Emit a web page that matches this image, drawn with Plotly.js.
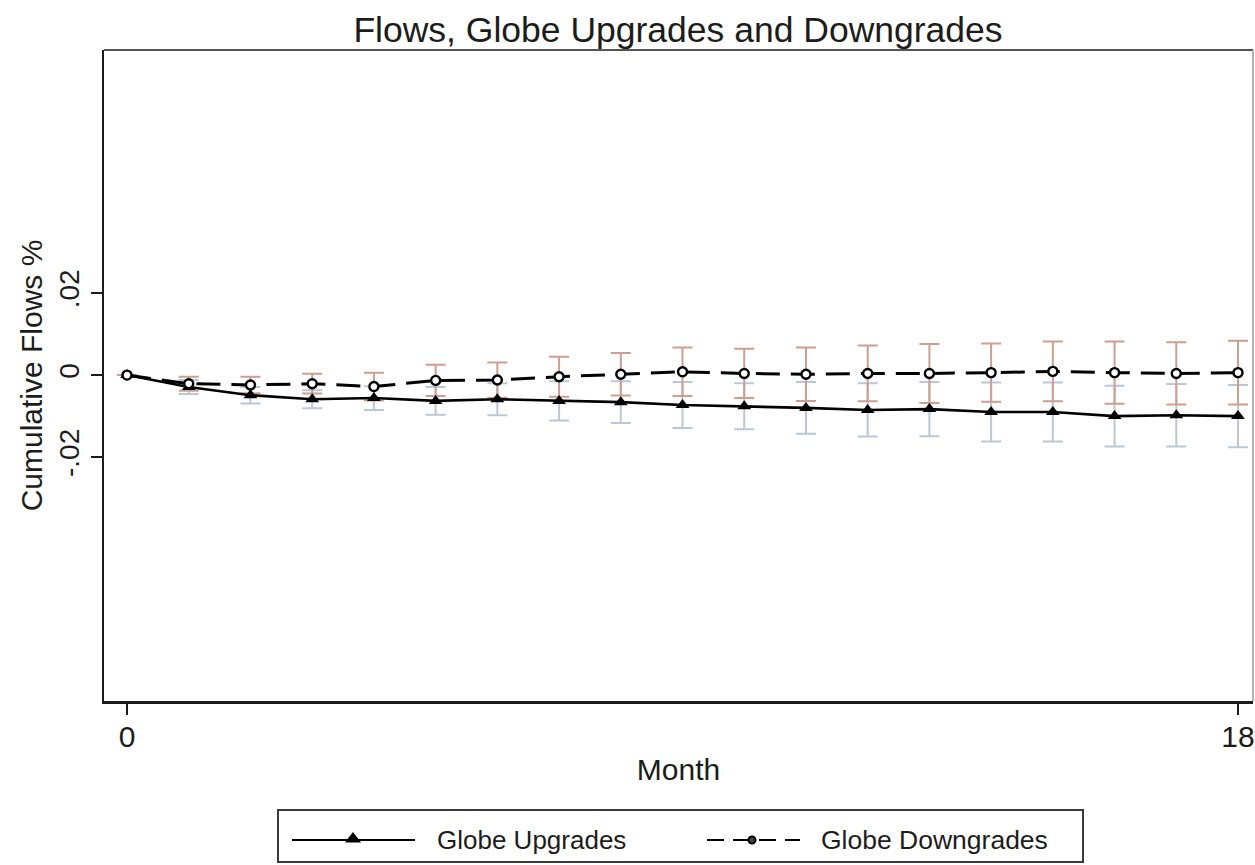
<!DOCTYPE html>
<html>
<head>
<meta charset="utf-8">
<script src="https://cdn.plot.ly/plotly-3.0.1.min.js"></script>
<style>
  html, body { margin: 0; padding: 0; background: #ffffff; }
  #chart { width: 1255px; height: 865px; }
</style>
</head>
<body>
<div id="chart"></div>
<script>
// Months since event
const months = [0, 1, 2, 3, 4, 5, 6, 7, 8, 9, 10, 11, 12, 13, 14, 15, 16, 17, 18];

// Cumulative flows (%) and 95% CI half-widths
const upgrades = [0, -0.0029, -0.0049, -0.0059, -0.0056, -0.0063, -0.0059, -0.0063, -0.0066,
  -0.0073, -0.0076, -0.0080, -0.0085, -0.0083, -0.0090, -0.0090, -0.0100, -0.0098, -0.0100];
const upgradesCI = [0, 0.0017, 0.0020, 0.0022, 0.0029, 0.0034, 0.0039, 0.0048, 0.0051,
  0.0056, 0.0056, 0.0063, 0.0065, 0.0066, 0.0072, 0.0072, 0.0074, 0.0076, 0.0076];

const downgrades = [0, -0.0021, -0.0024, -0.0021, -0.0028, -0.0013, -0.0012, -0.0004, 0.0002,
  0.0008, 0.0004, 0.0002, 0.0004, 0.0004, 0.0006, 0.0009, 0.0006, 0.0004, 0.0006];
const downgradesCI = [0, 0.0017, 0.0020, 0.0024, 0.0034, 0.0038, 0.0043, 0.0049, 0.0052,
  0.0059, 0.0060, 0.0065, 0.0068, 0.0072, 0.0071, 0.0073, 0.0076, 0.0076, 0.0078];

const seriesNames = ['Globe Upgrades', 'Globe Downgrades'];
const xTickVals = [0, 18];
const xTickText = ['0', '18'];
const yTickVals = [-0.02, 0, 0.02];
const yTickText = ['-.02', '0', '.02'];

const chartTitle = 'Flows, Globe Upgrades and Downgrades';
const xTitle = 'Month';
const yTitle = 'Cumulative Flows %';

// ---- layout helpers (pixel -> paper fractions) ----
const W = 1255, H = 865;
const px = v => v / W;
const py = v => 1 - v / H;
const FONT = 'Liberation Sans, Arial, Helvetica, sans-serif';
const INK = '#1c1c1c';
const CI_BLUE = '#bcc7d6';
const CI_PINK = '#cc9f92';

const frame = { left: 104, right: 1253, top: 50, bottom: 701 };
const legendBox = { left: 278, right: 1083, top: 810, bottom: 862 };
const keyY = 840;

const traces = [
  // confidence intervals (drawn first so the lines sit on top)
  {
    x: months, y: upgrades, type: 'scatter', mode: 'markers',
    marker: { size: 1, color: 'rgba(0,0,0,0)' },
    error_y: { type: 'data', array: upgradesCI, visible: true, color: CI_BLUE, thickness: 2, width: 10 },
    showlegend: false, hoverinfo: 'skip'
  },
  {
    x: months, y: downgrades, type: 'scatter', mode: 'markers',
    marker: { size: 1, color: 'rgba(0,0,0,0)' },
    error_y: { type: 'data', array: downgradesCI, visible: true, color: CI_PINK, thickness: 2, width: 10 },
    showlegend: false, hoverinfo: 'skip'
  },
  {
    x: months, y: upgrades, type: 'scatter', mode: 'lines+markers', name: seriesNames[0],
    line: { color: '#000000', width: 2.6 },
    marker: { symbol: 'triangle-up', size: 12, color: '#000000' },
    showlegend: false
  },
  {
    x: months, y: downgrades, type: 'scatter', mode: 'lines+markers', name: seriesNames[1],
    line: { color: '#000000', width: 3, dash: '24px,11px' },
    marker: { symbol: 'circle', size: 9, color: '#ffffff', line: { color: '#000000', width: 2.4 } },
    showlegend: false
  },
  // legend keys, drawn on a pixel-scaled helper axis pair
  {
    x: [292, 415], y: [keyY, keyY], xaxis: 'x2', yaxis: 'y2',
    type: 'scatter', mode: 'lines',
    line: { color: '#000000', width: 2 },
    showlegend: false, hoverinfo: 'skip'
  },
  {
    x: [353], y: [keyY - 1], xaxis: 'x2', yaxis: 'y2',
    type: 'scatter', mode: 'markers',
    marker: { symbol: 'triangle-up', size: 14, color: '#000000' },
    showlegend: false, hoverinfo: 'skip'
  },
  {
    x: [707, 800], y: [keyY, keyY], xaxis: 'x2', yaxis: 'y2',
    type: 'scatter', mode: 'lines',
    line: { color: '#000000', width: 2, dash: '17px,9px' },
    showlegend: false, hoverinfo: 'skip'
  },
  {
    x: [752], y: [keyY], xaxis: 'x2', yaxis: 'y2',
    type: 'scatter', mode: 'markers',
    marker: { symbol: 'circle', size: 7, color: '#444444', line: { color: '#000000', width: 2 } },
    showlegend: false, hoverinfo: 'skip'
  }
];

const layout = {
  width: W, height: H,
  margin: { l: 0, r: 0, t: 0, b: 0 },
  paper_bgcolor: '#ffffff',
  plot_bgcolor: 'rgba(0,0,0,0)',
  showlegend: false,
  font: { family: FONT, color: INK },
  title: {
    text: chartTitle,
    font: { family: FONT, size: 35.5, color: INK },
    x: px(678), xanchor: 'center', xref: 'paper',
    y: py(30), yanchor: 'middle', yref: 'container'
  },
  xaxis: {
    domain: [px(frame.left), px(frame.right)],
    range: [-0.373, 18.243],
    tickmode: 'array', tickvals: xTickVals, ticktext: xTickText,
    ticks: 'outside', ticklen: 11, tickwidth: 2, tickcolor: INK,
    tickfont: { family: FONT, size: 30, color: INK },
    ticklabelstandoff: -4,
    showline: true, linecolor: INK, linewidth: 2.5,
    showgrid: false, zeroline: false, fixedrange: true,
    automargin: false,
    title: { text: xTitle, font: { family: FONT, size: 30, color: INK }, standoff: 8 }
  },
  yaxis: {
    domain: [py(frame.bottom), py(frame.top)],
    range: [-0.0795, 0.0793],
    tickmode: 'array', tickvals: yTickVals, ticktext: yTickText,
    tickangle: -90,
    ticks: 'outside', ticklen: 11, tickwidth: 2, tickcolor: INK,
    tickfont: { family: FONT, size: 28, color: INK },
    showline: true, linecolor: INK, linewidth: 2.5,
    showgrid: false, zeroline: false, fixedrange: true,
    automargin: false,
    title: { text: yTitle, font: { family: FONT, size: 30, color: INK }, standoff: 3 }
  },
  xaxis2: {
    domain: [0, 1], range: [0, W], anchor: 'y2',
    visible: false, fixedrange: true
  },
  yaxis2: {
    domain: [0, 1], range: [H, 0], anchor: 'x2',
    visible: false, fixedrange: true
  },
  shapes: [
    // top and right edges of the plot region
    { type: 'line', xref: 'paper', yref: 'paper',
      x0: px(frame.left), x1: px(frame.right), y0: py(frame.top), y1: py(frame.top),
      line: { color: '#555555', width: 1.8 } },
    { type: 'line', xref: 'paper', yref: 'paper',
      x0: px(frame.right), x1: px(frame.right), y0: py(frame.top), y1: py(frame.bottom),
      line: { color: '#9a9a9a', width: 1.5 } },
    // legend frame
    { type: 'rect', xref: 'paper', yref: 'paper',
      x0: px(legendBox.left), x1: px(legendBox.right), y0: py(legendBox.bottom), y1: py(legendBox.top),
      line: { color: '#3a3a3a', width: 2 }, fillcolor: 'rgba(0,0,0,0)' }
  ],
  annotations: [
    { xref: 'paper', yref: 'paper', x: px(435), y: py(keyY), xanchor: 'left', yanchor: 'middle',
      text: seriesNames[0], showarrow: false, font: { family: FONT, size: 26, color: INK } },
    { xref: 'paper', yref: 'paper', x: px(819), y: py(keyY), xanchor: 'left', yanchor: 'middle',
      text: seriesNames[1], showarrow: false, font: { family: FONT, size: 26.5, color: INK } }
  ]
};

Plotly.newPlot('chart', traces, layout, { staticPlot: true, displayModeBar: false });
</script>
</body>
</html>
